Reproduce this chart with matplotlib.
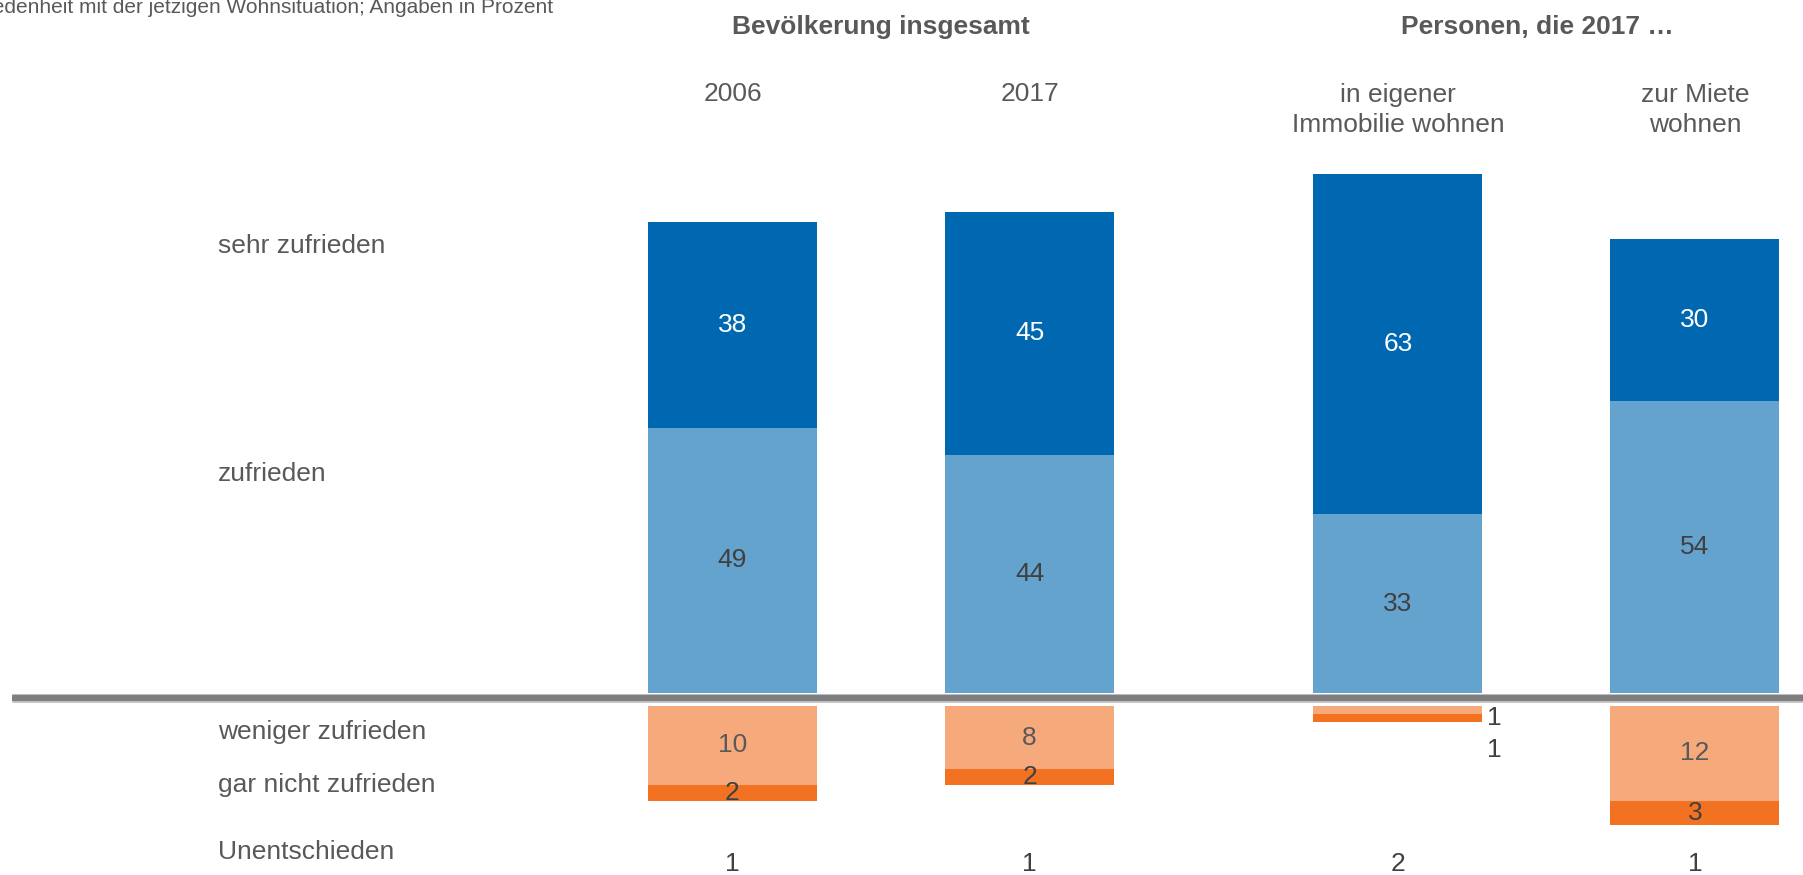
import matplotlib.pyplot as plt
from matplotlib.lines import Line2D
from matplotlib.transforms import blended_transform_factory

plt.rcParams['font.family'] = ['Liberation Sans', 'DejaVu Sans']

# Daten (Angaben in Prozent)
kategorien = ["2006", "2017", "in eigener\nImmobilie wohnen", "zur Miete\nwohnen"]
sehr_zufrieden = [38, 45, 63, 30]
zufrieden = [49, 44, 33, 54]
weniger_zufrieden = [10, 8, 1, 12]
gar_nicht_zufrieden = [2, 2, 1, 3]
unentschieden = [1, 1, 2, 1]
x_pos = [0, 1, 2.24, 3.24]

zeilen = ["sehr zufrieden", "zufrieden", "weniger zufrieden", "gar nicht zufrieden", "Unentschieden"]
zeilen_y = [246, 474, 732, 785, 852]

c_dunkelblau = '#0067B1'
c_hellblau = '#65A3CF'
c_lachs = '#F6AA7C'
c_orange = '#F37221'
c_text = '#595959'
c_zahl = '#404040'

W, H = 1803, 875
fig = plt.figure(figsize=(W / 100, H / 100), dpi=100)

breite = 0.569
xlim = (-2.466, 3.604)

# obere Achse: positive Werte
ax = fig.add_axes([0, (H - 693) / H, 1, 693 / H])
ax.set_xlim(*xlim)
ax.set_ylim(0, 693 / 5.41)
ax.axis('off')

# untere Achse: negative Werte
ax2 = fig.add_axes([0, 0, 1, (H - 706) / H])
ax2.set_xlim(*xlim)
ax2.set_ylim(-(H - 706) / 7.9, 0)
ax2.axis('off')

fs = 19

ax.bar(x_pos, zufrieden, width=breite, color=c_hellblau)
ax.bar(x_pos, sehr_zufrieden, bottom=zufrieden, width=breite, color=c_dunkelblau)

neg_w = [-v for v in weniger_zufrieden]
neg_g = [-v for v in gar_nicht_zufrieden]
ax2.bar(x_pos, neg_w, width=breite, color=c_lachs)
ax2.bar(x_pos, neg_g, bottom=neg_w, width=breite, color=c_orange)

for i, x in enumerate(x_pos):
    z, s = zufrieden[i], sehr_zufrieden[i]
    ax.text(x, z / 2, str(z), ha='center', va='center', fontsize=fs, color=c_zahl)
    ax.text(x, z + s / 2, str(s), ha='center', va='center', fontsize=fs, color='white')

    w, g = weniger_zufrieden[i], gar_nicht_zufrieden[i]
    if w > 1:
        ax2.text(x, -w / 2, str(w), ha='center', va='center', fontsize=fs, color=c_text)
        ax2.text(x, -w - g / 2, str(g), ha='center', va='center', fontsize=fs, color=c_zahl)
    else:
        # zu schmal: Werte rechts neben den Balken
        ax2.annotate(str(w), (x + breite / 2, -w - g / 2), xytext=(3, 0),
                     textcoords='offset points', ha='left', va='center',
                     fontsize=fs, color=c_zahl)
        ax2.annotate(str(g), (x + breite / 2, -w - g / 2), xytext=(3, -23),
                     textcoords='offset points', ha='left', va='center',
                     fontsize=fs, color=c_zahl)

# Unentschieden-Zeile
tr = blended_transform_factory(ax2.transData, fig.transFigure)
for x, u in zip(x_pos, unentschieden):
    fig.text(x, 1 - 864 / H, str(u), transform=tr, ha='center', va='center',
             fontsize=fs, color=c_zahl)

# Spaltenköpfe
tr_top = blended_transform_factory(ax.transData, fig.transFigure)
for x, k in zip(x_pos, kategorien):
    y = 94 if '\n' not in k else 110
    fig.text(x, 1 - y / H, k, transform=tr_top, ha='center', va='center',
             fontsize=fs, color=c_text, linespacing=1.35)

fig.text((x_pos[0] + x_pos[1]) / 2, 1 - 27 / H, "Bevölkerung insgesamt", transform=tr_top,
         ha='center', va='center', fontsize=fs, fontweight='bold', color=c_text)
fig.text((x_pos[2] + x_pos[3]) / 2 - 0.03, 1 - 27 / H, "Personen, die 2017 …", transform=tr_top,
         ha='center', va='center', fontsize=fs, fontweight='bold', color=c_text)

# Zeilenbeschriftungen
for t, y in zip(zeilen, zeilen_y):
    fig.text(218 / W, 1 - y / H, t, ha='left', va='center', fontsize=fs, color=c_text)

# Untertitel (links und oben abgeschnitten)
fig.text(553 / W, 1 - 12.7 / H, "Zufriedenheit mit der jetzigen Wohnsituation; Angaben in Prozent",
         ha='right', va='baseline', fontsize=15, color=c_text)

# Nulllinie
y0 = 1 - 698 / H
fig.add_artist(Line2D([12 / W, 1], [y0, y0], transform=fig.transFigure,
                      color='#c8c8c8', lw=6.5, solid_capstyle='butt'))
fig.add_artist(Line2D([12 / W, 1], [y0, y0], transform=fig.transFigure,
                      color='#7f7f7f', lw=4.5, solid_capstyle='butt'))

fig.savefig('out.png', dpi=100)
